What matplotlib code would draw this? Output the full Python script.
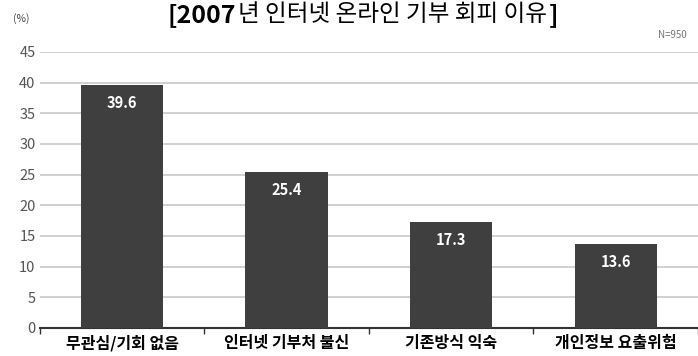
import matplotlib.pyplot as plt
import numpy as np

plt.rcParams['font.family'] = ['Noto Sans CJK KR', 'DejaVu Sans']

# data
categories = ['무관심/기회 없음', '인터넷 기부처 불신', '기존방식 익숙', '개인정보 요출위험']
values = [39.6, 25.4, 17.3, 13.6]
yticks = [0, 5, 10, 15, 20, 25, 30, 35, 40, 45]

fig = plt.figure(figsize=(6.98, 3.56), dpi=100)
ax = fig.add_axes([0.057, 0.079, 0.943, 0.775])

x = np.arange(len(categories))
bars = ax.bar(x, values, width=0.5, color='#3f3f3f', zorder=3)

for b, v in zip(bars, values):
    ax.text(b.get_x() + b.get_width() / 2, v - 1.6, f'{v:.1f}',
            ha='center', va='top', color='white', fontsize=10.5, fontweight='bold', zorder=4)

ax.set_xlim(-0.5, len(categories) - 0.5)
ax.set_ylim(0, 45)
ax.set_yticks(yticks)
ax.yaxis.grid(True, color='#c8c8c8', linewidth=1.2, zorder=0)
ax.tick_params(axis='y', length=0, labelsize=10.5, labelcolor='#555555', pad=3)

# category boundaries carry the tick marks, labels sit between them
ax.set_xticks(np.arange(len(categories) + 1) - 0.5)
ax.set_xticklabels([])
ax.set_xticks(x, minor=True)
ax.set_xticklabels(categories, minor=True, fontsize=11.5, fontweight='bold')
ax.tick_params(axis='x', which='major', length=4, width=1, color='#333333', direction='out')
ax.tick_params(axis='x', which='minor', length=0, pad=5)

for s in ['top', 'right', 'left']:
    ax.spines[s].set_visible(False)
ax.spines['bottom'].set_color('#333333')
ax.spines['bottom'].set_linewidth(1.5)

# title pieces chained one after another: bold year, plain text
renderer = fig.canvas.get_renderer()
tx = 168 / 698
pieces = [('[2007', 'bold', 18), ('년 인터넷 온라인 기부 회피 이유', 'normal', 17), (']', 'bold', 18)]
for s, w, fs in pieces:
    t = fig.text(tx, 0.958, s, ha='left', va='center', fontsize=fs, fontweight=w)
    bb = t.get_window_extent(renderer)
    tx = bb.x1 / fig.bbox.width + 0.002

fig.text(0.019, 0.949, '(%)', ha='left', va='center', fontsize=7.5, color='#444444')
fig.text(0.984, 0.902, 'N=950', ha='right', va='center', fontsize=7, color='#777777')

fig.savefig('out.png', dpi=100, facecolor='white')
